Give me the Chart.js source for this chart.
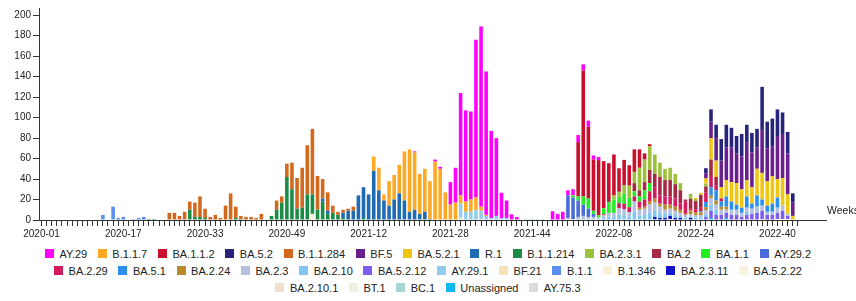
<!DOCTYPE html>
<html>
<head>
<meta charset="utf-8">
<script src="https://cdn.jsdelivr.net/npm/chart.js@4.4.1/dist/chart.umd.min.js"></script>
<style>
  html, body { margin: 0; padding: 0; background: #ffffff; }
  #wrap { position: absolute; left: 0; top: 0; width: 856px; height: 245px; }
  #legend { position: absolute; top: 245px; left: 28px; width: 800px; display: flex; flex-wrap: wrap;
            justify-content: center; column-gap: 10.7px; font: 11px "Liberation Sans", Arial, Helvetica, sans-serif; color: #222; }
  #legend .item { display: flex; align-items: center; height: 17.2px; white-space: nowrap; }
  #legend .item i { display: inline-block; width: 9px; height: 9px; margin-right: 5.5px; }
</style>
</head>
<body>
<div id="wrap"><canvas id="c"></canvas></div>
<div id="legend"></div>
<script>
// ---------- categories ----------
const weekCounts = [[2020, 53], [2021, 52], [2022, 49]];
const weeks = [];
for (const [yr, n] of weekCounts) for (let w = 1; w <= n; w++) weeks.push(yr + "-" + String(w).padStart(2, "0"));
const tickLabels = ["2020-01","2020-17","2020-33","2020-49","2021-12","2021-28","2021-44","2022-08","2022-24","2022-40"];
const lastTickWeek = "2022-44";
const xTitle = "Weeks";

// ---------- series values (cases per week) ----------
const AY_29 = {"2021-21":1,"2021-25":2,"2021-26":2,"2021-28":22,"2021-29":34,"2021-30":100,"2021-31":89,"2021-32":86,"2021-33":154,"2021-34":176,"2021-35":140,"2021-36":85,"2021-37":76,"2021-38":25,"2021-39":17,"2021-40":5.5,"2021-41":3,"2021-48":8.5,"2021-49":6,"2021-50":8,"2021-51":5,"2021-52":6,"2022-01":7,"2022-02":6,"2022-03":6,"2022-04":4,"2022-05":3};
const B_1_1_7 = {"2021-13":14,"2021-14":22,"2021-15":6,"2021-16":24,"2021-17":24,"2021-18":28,"2021-19":48,"2021-20":61,"2021-21":56,"2021-22":39,"2021-23":42,"2021-24":37,"2021-25":57,"2021-26":50,"2021-27":27,"2021-28":15,"2021-29":17,"2021-30":8,"2021-31":10,"2021-32":12,"2021-33":12,"2021-34":4,"2021-35":1};
const BA_1_1_2 = {"2022-01":53,"2022-02":123,"2022-03":70,"2022-04":50,"2022-05":54,"2022-06":46,"2022-07":35,"2022-08":40,"2022-09":23,"2022-10":25,"2022-11":20,"2022-12":22,"2022-13":18,"2022-14":6,"2022-15":2};
const BA_5_2 = {"2022-26":5,"2022-27":12,"2022-28":13,"2022-29":21,"2022-30":22,"2022-31":19,"2022-32":17,"2022-33":22,"2022-34":17,"2022-35":19,"2022-36":18,"2022-37":42,"2022-38":26,"2022-39":27,"2022-40":26,"2022-41":21,"2022-42":21,"2022-43":9};
const B_1_1_284 = {"2020-26":7,"2020-27":7,"2020-28":4,"2020-29":8,"2020-30":8,"2020-31":14,"2020-32":20,"2020-33":9,"2020-34":3,"2020-35":5,"2020-36":2,"2020-37":14,"2020-38":26,"2020-39":11,"2020-40":3,"2020-41":3,"2020-42":3,"2020-43":2,"2020-44":6,"2020-47":9,"2020-48":6,"2020-49":13,"2020-50":26,"2020-51":30,"2020-52":39,"2020-53":48,"2021-01":64,"2021-02":33,"2021-03":19,"2021-04":18,"2021-05":7,"2021-06":3,"2021-07":3,"2021-08":2,"2021-09":4};
const BF_5 = {"2022-26":5,"2022-27":16,"2022-28":22,"2022-29":26,"2022-30":32,"2022-31":34,"2022-32":29,"2022-33":32,"2022-34":37,"2022-35":34,"2022-36":21,"2022-37":42,"2022-38":32,"2022-39":29,"2022-40":42,"2022-41":43,"2022-42":40,"2022-43":13};
const BA_5_2_1 = {"2022-24":1,"2022-25":2,"2022-26":5,"2022-27":21,"2022-28":16,"2022-29":11,"2022-30":16,"2022-31":19,"2022-32":21,"2022-33":18,"2022-34":16,"2022-35":16,"2022-36":26,"2022-37":26,"2022-38":24,"2022-39":27,"2022-40":18,"2022-41":27,"2022-42":19,"2022-43":4};
const R_1 = {"2021-03":3,"2021-04":3,"2021-07":5,"2021-08":9,"2021-09":9,"2021-10":24,"2021-11":30,"2021-12":25,"2021-13":47,"2021-14":29,"2021-15":19,"2021-16":14,"2021-17":20,"2021-18":26,"2021-19":19,"2021-20":8,"2021-21":10,"2021-22":6,"2021-23":8,"2021-24":1};
const B_1_1_214 = {"2020-22":1,"2020-23":1,"2020-30":10,"2020-31":3,"2020-32":3,"2020-33":2,"2020-39":2,"2020-40":1,"2020-46":4,"2020-47":10,"2020-48":17,"2020-49":42,"2020-50":30,"2020-51":11,"2020-52":12,"2020-53":25,"2021-01":19,"2021-02":10,"2021-03":18,"2021-04":6,"2021-05":7,"2021-06":5,"2021-07":2,"2021-11":2,"2021-13":1};
const BA_2_3_1 = {"2022-08":4,"2022-09":5,"2022-10":8,"2022-11":12,"2022-12":11,"2022-13":22,"2022-14":22,"2022-15":23,"2022-16":19,"2022-17":14,"2022-18":11,"2022-19":12,"2022-20":10,"2022-21":7,"2022-23":5,"2022-24":2,"2022-26":3};
const BA_2 = {"2022-07":3,"2022-12":8,"2022-13":6,"2022-14":8,"2022-15":13,"2022-16":13,"2022-17":18,"2022-18":16,"2022-19":16,"2022-20":14,"2022-21":13,"2022-22":2,"2022-23":9,"2022-24":8,"2022-25":12,"2022-26":6,"2022-27":16,"2022-28":8};
const BA_1_1 = {"2021-52":2,"2022-01":4,"2022-02":8,"2022-03":10,"2022-04":3,"2022-05":2,"2022-06":6,"2022-07":11,"2022-08":13,"2022-09":6,"2022-10":10,"2022-11":9,"2022-12":5,"2022-13":5,"2022-14":9,"2022-15":8};
const AY_29_2 = {"2021-51":22,"2021-52":21,"2022-01":16,"2022-02":11,"2022-03":8,"2022-04":3};
const BA_2_29 = {"2022-06":1,"2022-09":5,"2022-10":5,"2022-11":5,"2022-12":5,"2022-13":6,"2022-14":7,"2022-15":10,"2022-16":11,"2022-17":8,"2022-18":8,"2022-19":8,"2022-20":8,"2022-21":6,"2022-22":12,"2022-23":2,"2022-24":3,"2022-25":4,"2022-26":9,"2022-27":11,"2022-28":5,"2022-29":3};
const BA_5_1 = {"2022-25":1,"2022-26":5,"2022-27":8,"2022-28":10,"2022-29":5,"2022-30":10,"2022-31":8,"2022-32":5,"2022-33":5,"2022-34":11,"2022-35":5,"2022-36":11,"2022-37":6,"2022-38":6,"2022-39":8,"2022-40":10};
const BA_2_24 = {"2022-13":2,"2022-14":2,"2022-15":3,"2022-16":4,"2022-17":3,"2022-18":5,"2022-19":4,"2022-20":4,"2022-21":3,"2022-22":1,"2022-23":4,"2022-24":3,"2022-25":3,"2022-26":3,"2022-27":3,"2022-28":4,"2022-29":3,"2022-30":3};
const BA_2_3 = {"2021-51":2,"2021-52":1,"2022-01":3,"2022-02":4,"2022-03":3,"2022-04":3,"2022-05":2.5,"2022-06":2,"2022-07":3,"2022-08":4,"2022-09":6,"2022-10":6,"2022-11":4,"2022-12":10,"2022-13":6,"2022-14":6,"2022-15":8,"2022-16":8,"2022-17":6,"2022-18":4,"2022-19":4,"2022-20":4,"2022-21":3,"2022-22":3,"2022-23":2,"2022-24":2,"2022-25":2,"2022-26":4,"2022-27":6,"2022-28":5,"2022-29":5,"2022-30":3,"2022-31":5,"2022-32":5,"2022-33":4,"2022-34":4,"2022-35":5,"2022-36":6,"2022-37":5,"2022-38":3,"2022-39":3,"2022-40":5,"2022-41":5,"2022-42":2};
const BA_2_10 = {"2022-06":2.5,"2022-07":3.5,"2022-08":3,"2022-09":5.5,"2022-10":4.7,"2022-11":3.5,"2022-12":8,"2022-13":4,"2022-14":5,"2022-15":7,"2022-16":6,"2022-17":5,"2022-18":4,"2022-19":3,"2022-20":3,"2022-21":2,"2022-22":2,"2022-23":1.6,"2022-24":2.5,"2022-25":2.6,"2022-26":2.6,"2022-27":6,"2022-28":5,"2022-34":3};
const BA_5_2_12 = {"2022-26":3,"2022-27":7,"2022-28":5,"2022-29":5,"2022-30":5,"2022-31":5,"2022-32":5,"2022-33":3,"2022-34":5,"2022-35":6,"2022-36":7,"2022-37":8,"2022-38":5,"2022-39":5,"2022-40":6,"2022-41":8,"2022-42":3};
const AY_29_1 = {"2021-30":13,"2021-31":8,"2021-32":8,"2021-33":10,"2021-34":8,"2021-35":4,"2021-36":2,"2021-37":4,"2021-38":1.6,"2021-39":2,"2021-43":1,"2021-44":1,"2021-45":1,"2021-46":1};
const BF_21 = {"2022-40":1};
const B_1_1 = {"2020-13":5,"2020-15":13,"2020-16":2,"2020-17":3,"2020-19":1,"2020-20":2,"2020-21":3};
const B_1_346 = {"2021-01":6};
const BA_2_3_11 = {"2022-16":2,"2022-17":2,"2022-18":2,"2022-19":3,"2022-20":2,"2022-21":2,"2022-23":2};
const BA_5_2_22 = {"2022-41":1};
const BA_2_10_1 = {"2022-19":1};
const BT_1 = {"2022-42":1};
const BC_1 = {"2022-37":1};
const Unassigned = {"2022-16":1,"2022-27":2,"2022-30":2};
const AY_75_3 = {"2021-30":3,"2021-34":1};

// legend order (first = top of stack)
const seriesNames = ["AY.29","B.1.1.7","BA.1.1.2","BA.5.2","B.1.1.284","BF.5","BA.5.2.1","R.1","B.1.1.214","BA.2.3.1","BA.2","BA.1.1","AY.29.2",
  "BA.2.29","BA.5.1","BA.2.24","BA.2.3","BA.2.10","BA.5.2.12","AY.29.1","BF.21","B.1.1","B.1.346","BA.2.3.11","BA.5.2.22",
  "BA.2.10.1","BT.1","BC.1","Unassigned","AY.75.3"];
const seriesValues = [AY_29,B_1_1_7,BA_1_1_2,BA_5_2,B_1_1_284,BF_5,BA_5_2_1,R_1,B_1_1_214,BA_2_3_1,BA_2,BA_1_1,AY_29_2,
  BA_2_29,BA_5_1,BA_2_24,BA_2_3,BA_2_10,BA_5_2_12,AY_29_1,BF_21,B_1_1,B_1_346,BA_2_3_11,BA_5_2_22,
  BA_2_10_1,BT_1,BC_1,Unassigned,AY_75_3];

// ---------- styles ----------
const seriesColors = ["#ff00ff","#ffa823","#c8102e","#26237d","#d2691e","#6a1f8f","#f2c511","#1f6ab4","#1a8c46","#9cc23c","#a52844","#22ee22","#4a6cd8",
  "#d31a5c","#2a8ff0","#b88a2e","#b4c0e0","#80c6f5","#7b5df0","#94cdeb","#f5e2b5","#5b8ff0","#faefd8","#1212cc","#f9f2dc",
  "#efdfcc","#efefe2","#a6d8d2","#12b6f2","#dcdcdc"];
const FONT = '"Liberation Sans", Arial, Helvetica, sans-serif';
const AXIS = "#333333";
const TEXT = "#222222";

const datasets = seriesNames.map((name, i) => ({
  label: name,
  data: weeks.map(w => (seriesValues[i][w] !== undefined ? seriesValues[i][w] : null)),
  backgroundColor: seriesColors[i],
  borderWidth: 0,
  barPercentage: 0.7,
  categoryPercentage: 1.0
})).reverse();

const lastTickIndex = weeks.indexOf(lastTickWeek);
const tickCol = ctx => (ctx.index <= lastTickIndex ? AXIS : "rgba(0,0,0,0)");

const weeksLabel = {
  id: "weeksLabel",
  afterDraw(chart) {
    const c = chart.ctx, a = chart.chartArea;
    c.save();
    c.font = "10.5px " + FONT;
    c.fillStyle = TEXT;
    c.textBaseline = "middle";
    c.textAlign = "left";
    c.fillText(xTitle, a.right + 1, a.bottom - 9);
    c.restore();
  }
};

new Chart(document.getElementById("c"), {
  type: "bar",
  data: { labels: weeks, datasets },
  plugins: [weeksLabel],
  options: {
    responsive: true,
    maintainAspectRatio: false,
    animation: false,
    events: [],
    layout: { padding: { left: 0, right: 30, top: 4, bottom: 0 } },
    plugins: { legend: { display: false }, tooltip: { enabled: false } },
    scales: {
      x: {
        stacked: true,
        offset: true,
        border: { display: true, color: AXIS, width: 1 },
        grid: { display: true, drawOnChartArea: false, drawTicks: true, tickLength: 6, offset: false, color: tickCol, tickColor: tickCol },
        ticks: {
          autoSkip: false, maxRotation: 0, minRotation: 0, padding: 2, color: TEXT,
          font: { size: 10, family: FONT },
          callback: (v, i) => (tickLabels.includes(weeks[i]) ? weeks[i] : "")
        },
        afterFit: s => { s.height = 25; }
      },
      y: {
        stacked: true,
        min: 0,
        max: 207,
        border: { display: true, color: AXIS, width: 1 },
        grid: { display: true, drawOnChartArea: false, drawTicks: true, tickLength: 6, color: AXIS },
        ticks: { stepSize: 20, includeBounds: false, padding: 2, color: TEXT, font: { size: 10, family: FONT } },
        afterFit: s => { s.width = 39; }
      }
    }
  }
});

// ---------- HTML legend (legend order) ----------
const lg = document.getElementById("legend");
seriesNames.forEach((name, i) => {
  const it = document.createElement("span");
  it.className = "item";
  const sw = document.createElement("i");
  sw.style.background = seriesColors[i];
  it.appendChild(sw);
  it.appendChild(document.createTextNode(name));
  lg.appendChild(it);
});
</script>
</body>
</html>
